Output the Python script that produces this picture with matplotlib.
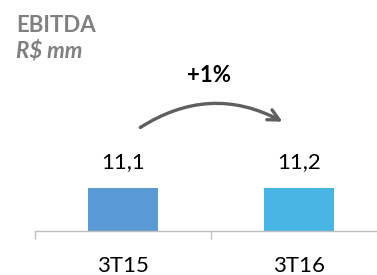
import matplotlib
matplotlib.use("Agg")
import matplotlib.pyplot as plt
from matplotlib.patches import FancyArrowPatch

categories = ["3T15", "3T16"]
values = [11.1, 11.2]
value_labels = ["11,1", "11,2"]
colors = ["#5B9BD5", "#47B6E4"]
change_label = "+1%"

plt.rcParams["font.family"] = ["Lato", "DejaVu Sans"]

W, H = 377, 275
fig = plt.figure(figsize=(W / 100, H / 100), dpi=100)
ax = fig.add_axes([35 / W, 44 / H, 352 / W, 190 / H])

x = range(len(categories))
ax.bar(x, values, width=0.40, color=colors)
ax.set_xlim(-0.5, 1.5)
ax.set_ylim(0, 49)

for i, v in enumerate(values):
    ax.annotate(value_labels[i], (i, v), xytext=(0, 14), textcoords="offset points",
                ha="center", va="baseline", fontsize=16, color="#000000")

for s in ["top", "right", "left"]:
    ax.spines[s].set_visible(False)
ax.spines["bottom"].set_color("#BFBFBF")
ax.spines["bottom"].set_linewidth(1)
ax.set_yticks([])
ax.set_xticks([-0.5, 0.5, 1.5])
ax.set_xticklabels([])
ax.tick_params(axis="x", which="major", length=6, color="#BFBFBF", width=1)
ax.set_xticks(list(x), minor=True)
ax.set_xticklabels(categories, minor=True, fontsize=16)
ax.tick_params(axis="x", which="minor", length=0, pad=18)

fig.text(16 / W, 1 - 25 / H, "EBITDA", fontsize=16, fontweight="bold", color="#808080", va="center")
fig.text(16 / W, 1 - 51 / H, "R$ mm", fontsize=16, fontweight="bold", style="italic", color="#808080", va="center")
fig.text(209 / W, 1 - 76 / H, change_label, fontsize=16, fontweight="bold", ha="center", va="center")

arrow = FancyArrowPatch((138 / W, 1 - 129 / H), (285 / W, 1 - 123 / H), transform=fig.transFigure,
                        connectionstyle="arc3,rad=-0.3", arrowstyle="->,head_length=8,head_width=4",
                        color="#5F5F5F", lw=2.4, mutation_scale=1)
fig.patches.append(arrow)

fig.savefig("out.png", dpi=100)
